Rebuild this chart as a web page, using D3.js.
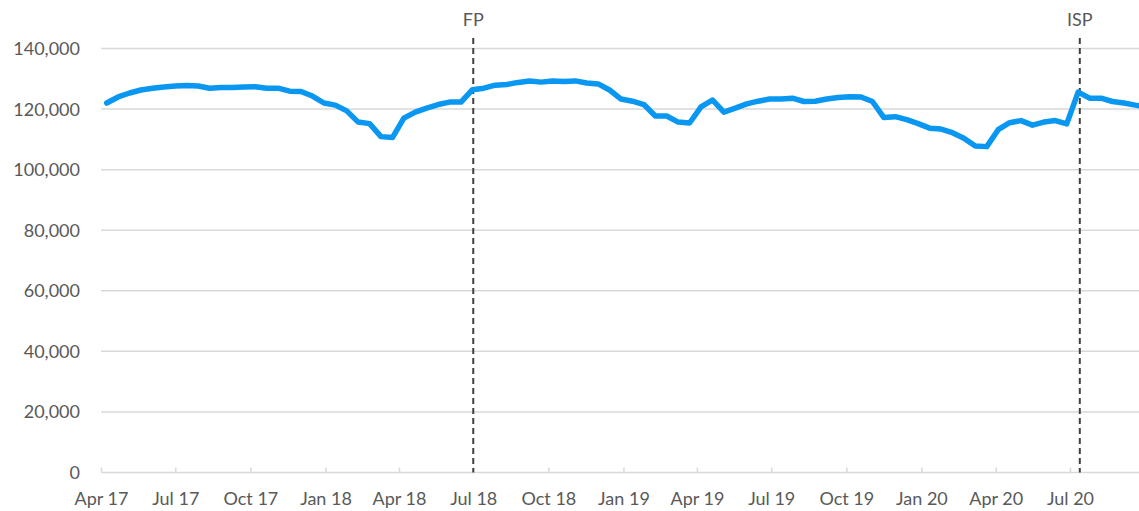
<!DOCTYPE html>
<html>
<head>
<meta charset="utf-8">
<script src="https://cdn.jsdelivr.net/npm/d3@7"></script>
<style>
  body{margin:0;background:#fff;}
  svg text{font-family:Lato,"Open Sans",sans-serif;fill:#595959;}
</style>
</head>
<body>
<svg id="chart" width="1139" height="511"></svg>
<script>
// fortnightly counts, first period 8 Apr 2017
const startDate="2017-04-08"
const stepDays=14
const values=[122.0,124.0,125.3,126.3,126.9,127.3,127.6,127.8,127.6,126.9,
  127.1,127.1,127.3,127.4,126.9,126.9,125.9,125.8,124.3,122.0,
  121.3,119.4,115.7,115.2,110.9,110.6,117.0,119.0,120.3,121.5,
  122.3,122.3,126.4,126.9,127.9,128.1,128.8,129.3,128.9,129.3,
  129.1,129.3,128.6,128.3,126.3,123.3,122.6,121.5,117.7,117.7,
  115.7,115.4,120.7,123.0,119.0,120.3,121.7,122.6,123.3,123.3,
  123.6,122.5,122.6,123.3,123.8,124.1,124.0,122.5,117.2,117.5,
  116.5,115.2,113.7,113.4,112.2,110.4,107.8,107.6,113.2,115.5,
  116.2,114.7,115.7,116.2,115.1,125.6,123.6,123.6,122.5,122.0,
  121.3,120.7].map(v=>v*1000)
const xTicks=["2017-04-01","2017-07-01","2017-10-01","2018-01-01","2018-04-01","2018-07-01",
  "2018-10-01","2019-01-01","2019-04-01","2019-07-01","2019-10-01","2020-01-01","2020-04-01","2020-07-01"]
const yTicks=[0,20000,40000,60000,80000,100000,120000,140000]
const markers=[{label:"FP",date:"2018-07-01"},{label:"ISP",date:"2020-07-13"}]

const parse=d3.utcParse("%Y-%m-%d")
const start=parse(startDate)
const data=values.map((v,i)=>({date:d3.utcDay.offset(start,i*stepDays),value:v}))

const svg=d3.select("#chart")
const left=101, right=1139, plotTop=48.5, bottom=472.5

const x=d3.scaleUtc()
  .domain([parse("2017-04-01"),parse("2020-07-01")])
  .range([left,1070])
const y=d3.scaleLinear().domain([0,140000]).range([bottom,plotTop])

// gridlines
svg.append("g").selectAll("line")
  .data(yTicks.filter(d=>d>0))
  .enter().append("line")
  .attr("x1",left).attr("x2",right)
  .attr("y1",d=>y(d)).attr("y2",d=>y(d))
  .attr("stroke","#d9d9d9").attr("stroke-width",1.5)

// y labels
svg.append("g").selectAll("text")
  .data(yTicks)
  .enter().append("text")
  .attr("x",80).attr("y",d=>y(d))
  .attr("dy","0.36em")
  .attr("text-anchor","end")
  .attr("font-size",18)
  .text(d=>d3.format(",")(d))

// x axis
const xaxis=d3.axisBottom(x)
  .tickValues(xTicks.map(parse))
  .tickSize(-5)
  .tickPadding(20)
  .tickFormat(d3.utcFormat("%b %y"))
const gx=svg.append("g").attr("transform",`translate(0,${bottom})`).call(xaxis)
gx.select(".domain").remove()
gx.append("line").attr("x1",left).attr("x2",right).attr("stroke","#d9d9d9").attr("stroke-width",1.5)
gx.selectAll(".tick line").attr("stroke","#d9d9d9").attr("stroke-width",1.5)
gx.selectAll(".tick text").attr("font-size",18).attr("font-family","Lato").attr("fill","#595959")

// marker lines
markers.forEach(m=>{
  const mx=x(parse(m.date))
  svg.append("line")
    .attr("x1",mx).attr("x2",mx).attr("y1",38).attr("y2",bottom)
    .attr("stroke","#404040").attr("stroke-width",2)
    .attr("stroke-dasharray","6,4")
  svg.append("text")
    .attr("x",mx).attr("y",26)
    .attr("text-anchor","middle")
    .attr("font-size",18)
    .text(m.label)
})

// series line
svg.append("clipPath").attr("id","clip")
  .append("rect").attr("x",0).attr("y",0).attr("width",right).attr("height",511)
const line=d3.line().x(d=>x(d.date)).y(d=>y(d.value))
svg.append("path")
  .datum(data)
  .attr("clip-path","url(#clip)")
  .attr("d",line)
  .attr("fill","none")
  .attr("stroke","#0a97f2")
  .attr("stroke-width",5.5)
  .attr("stroke-linejoin","round")
  .attr("stroke-linecap","round")
</script>
</body>
</html>
